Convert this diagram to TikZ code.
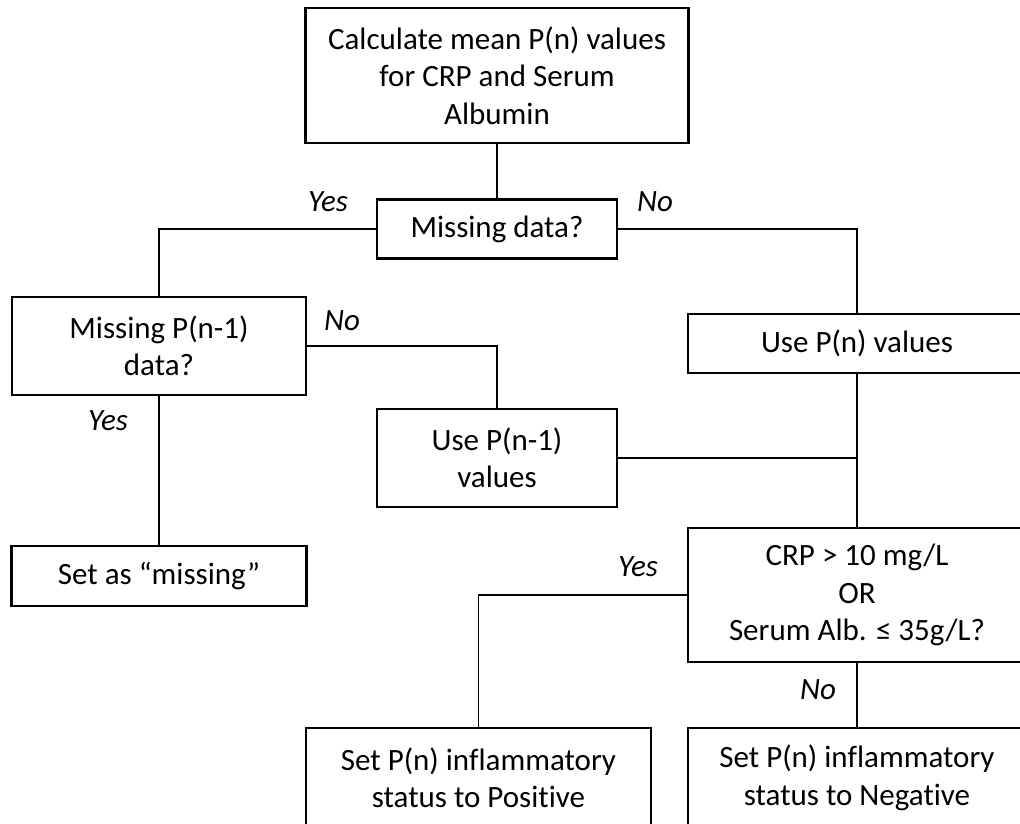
\documentclass[tikz,border=0pt]{standalone}
\usepackage{fontspec}
\setmainfont{Carlito}[Ligatures=NoCommon]
\usepackage{tikz}
\tikzset{
  box/.style={draw=black, line width=2.4pt, inner sep=0pt, outer sep=0pt,
    align=center, font=\fontsize{31}{37.5}\selectfont},
  linkb/.style={draw=black, line width=2.7pt},
  linkm/.style={draw=black, line width=1.8pt},
  links/.style={draw=black, line width=1.4pt},
  ans/.style={font=\fontsize{31}{36}\selectfont\itshape},
}

\begin{document}
\begin{tikzpicture}[x=1pt, y=-1pt]
  % frame
  \useasboundingbox (0,0) rectangle (1020,824);
  \clip (0,0) rectangle (1020,824);

  % boxes
  \node[box, minimum width=383pt, minimum height=135pt] (calc) at (497,75.5)
    {Calculate mean P(n) values\\for CRP and Serum\\Albumin};
  \node[box, minimum width=240pt, minimum height=59pt] (miss) at (497,229)
    {Missing data?};
  \node[box, minimum width=294pt, minimum height=98pt] (missprev) at (159,346)
    {Missing P(n-1)\\data?};
  \node[box, minimum width=338pt, minimum height=59pt] (usen) at (857,343.5)
    {Use P(n) values};
  \node[box, minimum width=240pt, minimum height=98pt] (useprev) at (497,458)
    {Use P(n-1)\\values};
  \node[box, minimum width=295pt, minimum height=60pt] (setmiss) at (159,576)
    {Set as “missing”};
  \node[box, minimum width=338pt, minimum height=134pt] (crp) at (857,595)
    {CRP > 10 mg/L\\OR\\Serum Alb. ≤ 35g/L?};
  \node[box, minimum width=345pt, minimum height=100pt] (pos) at (478.5,778)
    {Set P(n) inflammatory\\status to Positive};
  \node[box, minimum width=338pt, minimum height=100pt] (neg) at (857,778)
    {Set P(n) inflammatory\\status to Negative};

  % connectors
  \coordinate (join) at (usen.south |- useprev.east);
  \draw[linkb] (calc.south) -- (miss.north);
  \draw[links] (miss.west) -| (missprev.north);
  \draw[links] (miss.east) -| (usen.north);
  \draw[links] (missprev.east) -| (useprev.north);
  \draw[linkm] (missprev.south) -- (setmiss.north);
  \draw[linkb] (usen.south) -- (crp.north);
  \draw[linkb] (useprev.east) -- (join);
  \draw[links] (crp.west) -| (pos.north);
  \draw[linkb] (crp.south) -- (neg.north);

  % answers
  \node[ans] (yesa) at (328,202) {Yes};
  \node[ans] (noa) at (655,202) {No};
  \node[ans] (nob) at (342,321) {No};
  \node[ans] (yesb) at (108,421) {Yes};
  \node[ans] (yesc) at (638,567) {Yes};
  \node[ans] (noc) at (818,690) {No};
\end{tikzpicture}
\end{document}
